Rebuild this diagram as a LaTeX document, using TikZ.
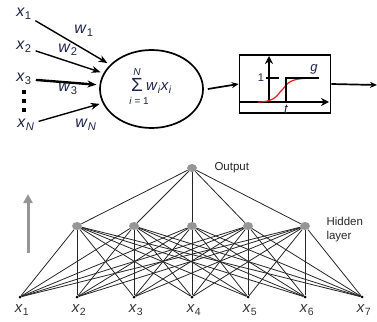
\documentclass[tikz,border=0pt]{standalone}
\usepackage{fontspec}
\setmainfont{Liberation Sans}
\usetikzlibrary{arrows.meta,shapes.geometric}

\definecolor{inkblue}{RGB}{28,36,72}
\definecolor{netgray}{RGB}{150,150,150}
\definecolor{stepred}{RGB}{225,30,30}

\newcommand{\sym}[2]{\textit{#1}\textsubscript{#2}}

\tikzset{
  lbl/.style={text=inkblue, font=\fontsize{16}{16}\selectfont, inner sep=1pt},
  wire/.style={line width=1.4pt, -{Stealth[length=9pt,width=7pt]}, shorten >=3pt, shorten <=3pt},
  unit/.style={ellipse, fill=netgray, minimum width=10pt, minimum height=8pt, inner sep=0pt},
  feed/.style={circle, fill=black, minimum size=3pt, inner sep=0pt},
  link/.style={line width=0.8pt, draw=black!85}
}

\begin{document}
\begin{tikzpicture}[x=1pt, y=-1pt]
  \useasboundingbox (0,0) rectangle (377,321);

  % Neuron
  \node[ellipse, draw, line width=1.7pt, minimum width=103pt, minimum height=78pt, inner sep=0pt] (neuron) at (151.5,89) {};
  \node[text=inkblue, font=\fontsize{19}{19}\selectfont, inner sep=0pt] (sigma) at (137,85) {Σ};
  \node[lbl, font=\fontsize{10}{10}\selectfont\itshape, inner sep=0pt] (sumtop) at (137,72) {N};
  \node[lbl, font=\fontsize{10}{10}\selectfont, inner sep=0pt] (sumbot) at (139,100.5) {\textit{i} = 1};
  \node[lbl, anchor=west, font=\fontsize{15}{15}\selectfont] (sumbody) at (145,88) {\sym{w}{\textit{i}}\sym{x}{\textit{i}}};

  % Inputs and weights
  \node[lbl] (x1) at (24,14) {\sym{x}{1}};
  \node[lbl] (x2) at (24,47) {\sym{x}{2}};
  \node[lbl] (x3) at (24,79) {\sym{x}{3}};
  \node[lbl] (xN) at (26,125) {\sym{x}{\textit{N}}};
  \node[lbl] (w1) at (84,31) {\sym{w}{1}};
  \node[lbl] (w2) at (68,50) {\sym{w}{2}};
  \node[lbl] (w3) at (68,89) {\sym{w}{3}};
  \node[lbl] (wN) at (86,125) {\sym{w}{\textit{N}}};
  \draw[wire] (x1) -- (neuron);
  \draw[wire] (x2) -- (neuron);
  \draw[wire, line width=2.4pt] (x3) -- (neuron);
  \draw[wire] (xN) -- (neuron);
  \foreach \y in {92,101,110} \fill (22,\y-2) rectangle ++(4,4);

  % Threshold box
  \node[draw, line width=1.7pt, minimum width=91pt, minimum height=58pt, inner sep=0pt] (box) at (285,84) {};
  \coordinate (axo) at (269,102);
  \coordinate (axl) at (240,102);
  \coordinate (axr) at (329,102);
  \coordinate (axt) at (269,56);
  \draw[line width=2.2pt, -{Stealth[length=8pt,width=8pt]}] (axl) -- (axr);
  \draw[line width=2.2pt, -{Stealth[length=8pt,width=8pt]}] (axo) -- (axt);
  \draw[stepred, line width=1.2pt] (258,102) .. controls (278,102) and (278,92) .. (283,89)
    .. controls (289,80) and (294,78) .. (319,78);
  \draw[line width=2pt] (266,78) -- (279,78);
  \draw[line width=2pt] (286,102) -- (286,78) -- (319,78);
  \node[lbl, font=\fontsize{11}{11}\selectfont] (one) at (261,78) {1};
  \node[lbl, font=\fontsize{13}{13}\selectfont\itshape] (gl) at (314,69) {g};
  \node[lbl, font=\fontsize{13}{13}\selectfont\itshape] (tl) at (286,109) {t};
  \coordinate (out) at (377,85);
  \draw[line width=1.7pt, -{Stealth[length=7pt,width=6pt]}] (neuron.east) ++(4,0) coordinate (nr) -- (box.west);
  \draw[line width=1.7pt, -{Stealth[length=7pt,width=6pt]}] (box.east) -- (out);

  % Network: output, hidden layer, inputs
  \node[unit] (o) at (192,168) {};
  \node[text=black!85, font=\fontsize{11.5}{11.5}\selectfont, anchor=west] (olbl) at (211,168) {Output};
  \foreach \i/\x in {1/77,2/134,3/192,4/248,5/305}
    \node[unit] (h\i) at (\x,226) {};
  \node[text=black!85, font=\fontsize{11.5}{14}\selectfont, align=left, anchor=west] (hlbl) at (323,230) {Hidden\\layer};
  \foreach \i/\x in {1/20,2/77,3/134,4/192,5/248,6/305,7/362} {
    \node[feed] (in\i) at (\x,297) {};
    \node[lbl, text=black!80, font=\fontsize{15}{15}\selectfont] (inl\i) at (\x+2,310) {\sym{x}{\i}};
  }
  \foreach \h in {1,...,5} {
    \draw[link] (o) -- (h\h);
    \foreach \i in {1,...,7}
      \draw[link] (in\i) -- (h\h);
  }
  \coordinate (upa) at (28,253);
  \coordinate (upb) at (28,194);
  \draw[netgray, line width=3pt, -{Triangle[length=9pt,width=9pt]}] (upa) -- (upb);
\end{tikzpicture}
\end{document}
